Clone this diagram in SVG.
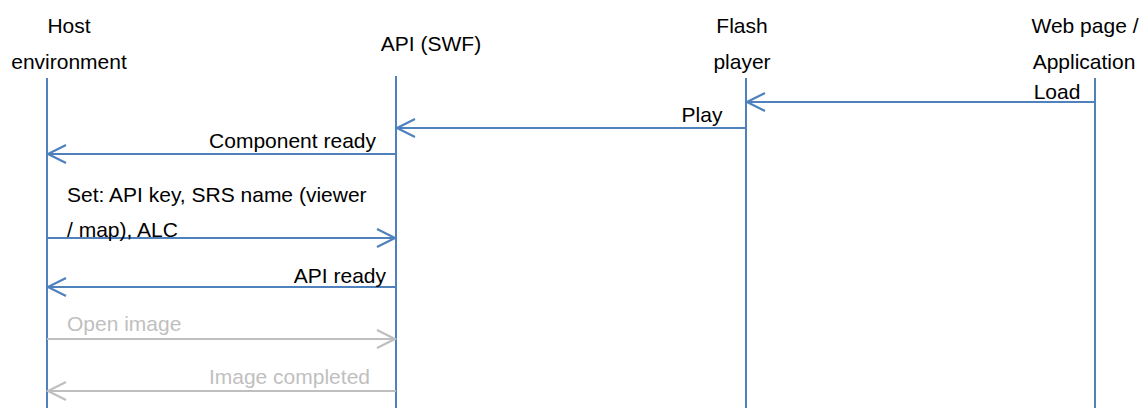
<svg xmlns="http://www.w3.org/2000/svg" width="1147" height="408" viewBox="0 0 1147 408">
<style>
text{font-family:"Liberation Sans",Arial,sans-serif;font-size:21px;fill:#000}
.g text{fill:#bfbfbf}
.life{stroke:#4f81bd;stroke-width:2;fill:none}
.msg{stroke:#4f81bd;stroke-width:2.2;fill:none}
.msg.grey{stroke:#bfbfbf}
</style>
<defs>
<marker id="ah" markerUnits="userSpaceOnUse" markerWidth="24" markerHeight="24" refX="19" refY="10" orient="auto" overflow="visible">
<path d="M1,1 L19,10 L1,19" fill="none" stroke="#4f81bd" stroke-width="2.2"/>
</marker>
<marker id="ahg" markerUnits="userSpaceOnUse" markerWidth="24" markerHeight="24" refX="19" refY="10" orient="auto" overflow="visible">
<path d="M1,1 L19,10 L1,19" fill="none" stroke="#bfbfbf" stroke-width="2.2"/>
</marker>
</defs>
<g id="host">
<text x="69" y="33" text-anchor="middle">Host</text>
<text x="69" y="69" text-anchor="middle">environment</text>
<line class="life" x1="47" y1="78" x2="47" y2="408"/>
</g>
<g id="api">
<text x="431" y="51" text-anchor="middle">API (SWF)</text>
<line class="life" x1="396" y1="76" x2="396" y2="408"/>
</g>
<g id="flash">
<text x="742" y="33" text-anchor="middle">Flash</text>
<text x="742" y="69" text-anchor="middle">player</text>
<line class="life" x1="746" y1="78" x2="746" y2="408"/>
</g>
<g id="web">
<text x="1085" y="33" text-anchor="middle">Web page /</text>
<text x="1084" y="69" text-anchor="middle">Application</text>
<line class="life" x1="1095" y1="78" x2="1095" y2="408"/>
</g>
<g id="connectors">
<line class="msg" x1="1095" y1="102" x2="747" y2="102" marker-end="url(#ah)"/>
<text x="1057" y="99" text-anchor="middle">Load</text>
<line class="msg" x1="746" y1="128" x2="397" y2="128" marker-end="url(#ah)"/>
<text x="702" y="122" text-anchor="middle">Play</text>
<line class="msg" x1="396" y1="154" x2="48" y2="154" marker-end="url(#ah)"/>
<text x="376" y="148" text-anchor="end">Component ready</text>
<line class="msg" x1="47" y1="238" x2="395" y2="238" marker-end="url(#ah)"/>
<text x="67" y="202">Set: API key, SRS name (viewer</text>
<text x="67" y="237">/ map), ALC</text>
<line class="msg" x1="396" y1="287" x2="48" y2="287" marker-end="url(#ah)"/>
<text x="386" y="283" text-anchor="end">API ready</text>
<g class="g">
<line class="msg grey" x1="47" y1="339" x2="395" y2="339" marker-end="url(#ahg)"/>
<text x="67" y="331">Open image</text>
<line class="msg grey" x1="396" y1="391" x2="48" y2="391" marker-end="url(#ahg)"/>
<text x="370" y="384" text-anchor="end">Image completed</text>
</g>
</g>
</svg>
